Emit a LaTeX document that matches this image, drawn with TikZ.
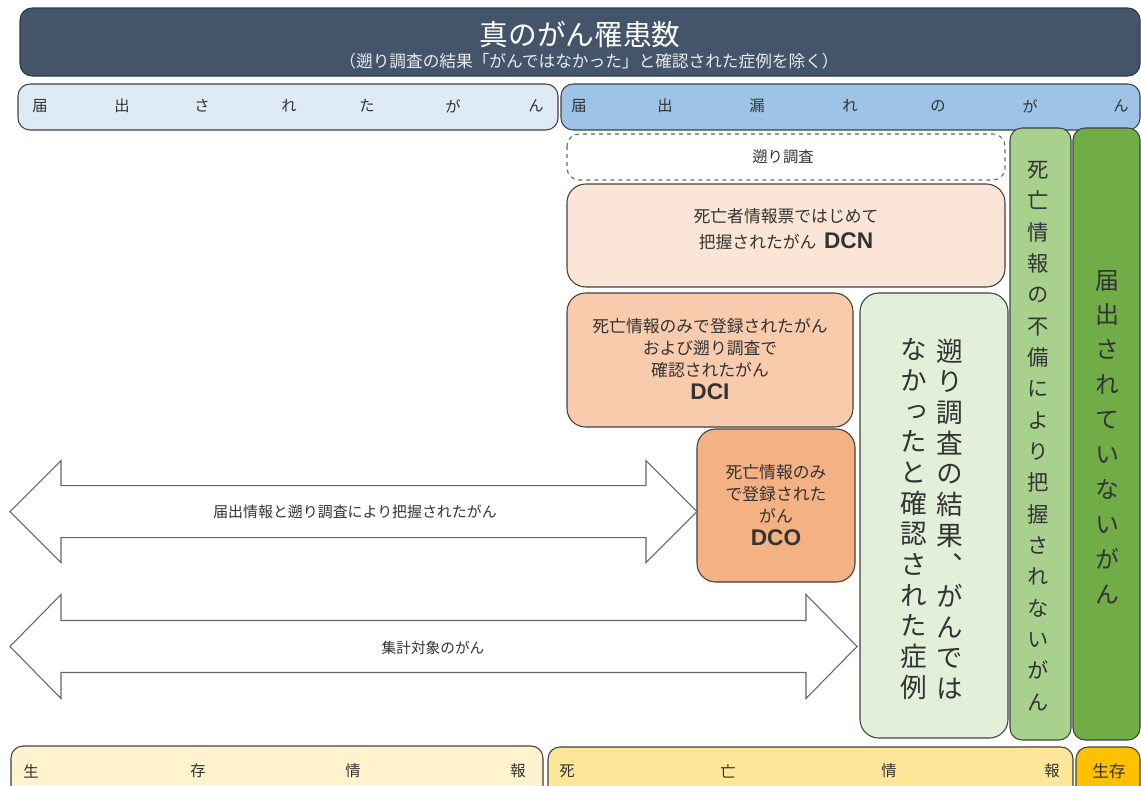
\documentclass[tikz,border=0pt]{standalone}
\usepackage{fontspec}
\usepackage{xcolor}
\usepackage{tikz}
\setmainfont{Noto Sans CJK JP}
\newfontfamily\jpvert{Noto Sans CJK JP}[RawFeature=+vert]
\newfontfamily\latinbold{Liberation Sans}
\definecolor{navy}{HTML}{44546A}
\definecolor{navyedge}{HTML}{2F3B4C}
\definecolor{edge}{HTML}{404040}
\definecolor{ink}{HTML}{333333}
\definecolor{reportedblue}{HTML}{DEEBF7}
\definecolor{missedblue}{HTML}{9DC3E6}
\definecolor{dcnpeach}{HTML}{FBE5D6}
\definecolor{dcipeach}{HTML}{F8CBAD}
\definecolor{dcopeach}{HTML}{F4B183}
\definecolor{palegreen}{HTML}{E2F0D9}
\definecolor{midgreen}{HTML}{A9D18E}
\definecolor{darkgreen}{HTML}{70AD47}
\definecolor{aliveyellow}{HTML}{FFF2CC}
\definecolor{deadyellow}{HTML}{FFE699}
\definecolor{aliveorange}{HTML}{FFC000}
\newcommand\rowfont{\fontsize{11.5}{14}\selectfont}
\newcommand\boxfont{\fontsize{12.6}{16.5}\selectfont}
\newcommand\codefont[1]{{\latinbold\bfseries\fontsize{17}{20}\selectfont #1}}

\begin{document}
\begin{tikzpicture}[x=0.75pt, y=-0.75pt,
  box/.style={draw=edge, line width=0.8pt, rounded corners=9pt},
  bigbox/.style={draw=edge, line width=0.8pt, rounded corners=14pt},
  txt/.style={text=ink, inner sep=0pt, align=center},
  arrowbox/.style={draw=edge!80, line width=0.8pt, fill=white, line join=miter}]
    \useasboundingbox (0,0) rectangle (1141,785);
    \clip (0,0) rectangle (1141,785);

    % Titre
    \draw[box, fill=navy, draw=navyedge] (20,8) rectangle (1140,76);
    \node[txt, text=white, font=\fontsize{21.5}{24}\selectfont] (title) at (580,35) {真のがん罹患数};
    \node[txt, text=white!88!navy, font=\fontsize{12.5}{14}\selectfont] (subtitle) at (589,61) {（遡り調査の結果「がんではなかった」と確認された症例を除く）};

    %届出されたがん / 届出漏れのがん
    \draw[box, fill=reportedblue] (18,84) rectangle (558,130);
    \draw[box, fill=missedblue] (561,84) rectangle (1140,130);
    \foreach \c/\x [count=\i] in {届/40, 出/122, さ/202, れ/289, た/367, が/453, ん/536}
        \node[txt, font=\rowfont] (reported\i) at (\x,106) {\c};
    \foreach \c/\x [count=\i] in {届/579, 出/665, 漏/757, れ/850, の/938, が/1030, ん/1121}
        \node[txt, font=\rowfont] (missed\i) at (\x,106) {\c};

    % Colonnes vertes
    \draw[bigbox, fill=palegreen] (860,293) rectangle (1008,738);
    \node[txt, font=\jpvert\fontsize{20}{23}\selectfont] (notcancer2) at (950,519) {遡\\り\\調\\査\\の\\結\\果\\、\\が\\ん\\で\\は};
    \node[txt, font=\jpvert\fontsize{20}{23}\selectfont] (notcancer1) at (914,519) {な\\か\\っ\\た\\と\\確\\認\\さ\\れ\\た\\症\\例};
    \draw[box, fill=midgreen] (1010,128) rectangle (1071,740);
    \node[txt, font=\jpvert\fontsize{16}{23.5}\selectfont] (missing) at (1038,436) {死\\亡\\情\\報\\の\\不\\備\\に\\よ\\り\\把\\握\\さ\\れ\\な\\い\\が\\ん};
    \draw[box, fill=darkgreen] (1073,128) rectangle (1140,740);
    \node[txt, font=\jpvert\fontsize{18}{26.2}\selectfont] (unreported) at (1107,437) {届\\出\\さ\\れ\\て\\い\\な\\い\\が\\ん};

    % Boîtes DCN, DCI, DCO
    \draw[box, dashed, draw=edge!80] (567,134) rectangle (1005,180);
    \node[txt, font=\rowfont] (survey) at (783,157) {遡り調査};
    \draw[bigbox, fill=dcnpeach] (567,184) rectangle (1005,287);
    \node[txt, font=\boxfont] (dcn) at (786,229) {死亡者情報票ではじめて\\[3pt]把握されたがん\ \ \codefont{DCN}};
    \draw[bigbox, fill=dcipeach] (567,293) rectangle (853,427);
    \node[txt, font=\boxfont] (dci) at (710,359) {死亡情報のみで登録されたがん\\および遡り調査で\\確認されたがん\\[1pt]\codefont{DCI}};
    \draw[bigbox, fill=dcopeach] (697,429) rectangle (855,582);
    \node[txt, font=\boxfont] (dco) at (776,505) {死亡情報のみ\\で登録された\\がん\\[1pt]\codefont{DCO}};

    % Flèches doubles
    \draw[arrowbox] (10,511.7) -- (61,460.7) -- (61,485.7) -- (646,485.7) -- (646,460.7)
        -- (697,511.7) -- (646,562.7) -- (646,537.7) -- (61,537.7) -- (61,562.7) -- cycle;
    \node[txt, font=\fontsize{11.2}{13}\selectfont] (arrowreported) at (355,512) {届出情報と遡り調査により把握されたがん};
    \draw[arrowbox] (10,646.5) -- (61,594.5) -- (61,620.5) -- (806,620.5) -- (806,594.5)
        -- (857,646.5) -- (806,698.5) -- (806,672.5) -- (61,672.5) -- (61,698.5) -- cycle;
    \node[txt, font=\fontsize{11}{13}\selectfont] (arrowcounted) at (433,648) {集計対象のがん};

    % 生存情報 / 死亡情報
    \draw[box, fill=aliveyellow] (11,746) rectangle (543,800);
    \draw[box, fill=deadyellow] (548,747) rectangle (1073,800);
    \draw[box, fill=aliveorange] (1076,747) rectangle (1140,800);
    \foreach \c/\x [count=\i] in {生/31, 存/198, 情/353, 報/518}
        \node[txt, font=\rowfont] (alive\i) at (\x,771) {\c};
    \foreach \c/\x [count=\i] in {死/567, 亡/728, 情/889, 報/1052}
        \node[txt, font=\rowfont] (dead\i) at (\x,771) {\c};
    \node[txt, font=\fontsize{12.5}{14}\selectfont] (alivelast) at (1109,771) {生存};

\end{tikzpicture}
\end{document}
